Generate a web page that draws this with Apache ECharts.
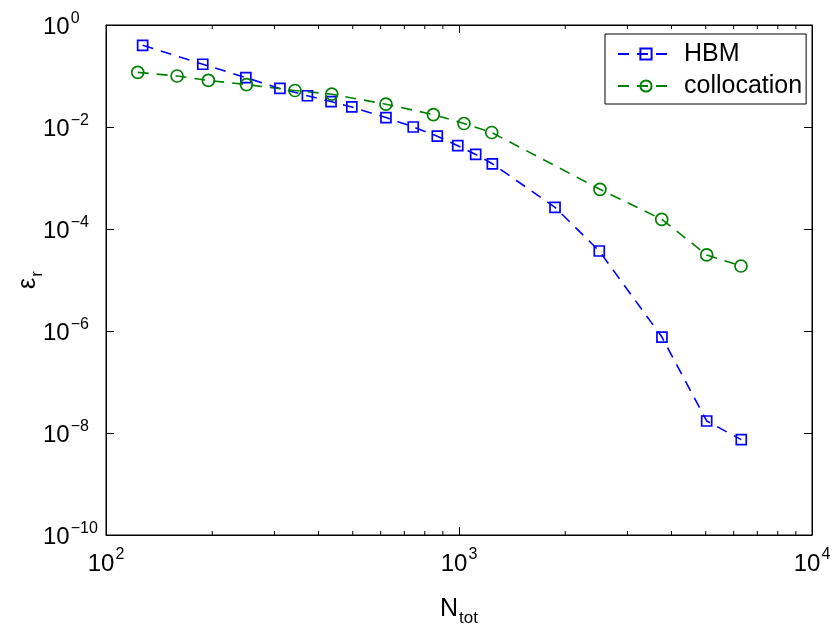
<!DOCTYPE html>
<html><head><meta charset="utf-8">
<script src="https://cdn.jsdelivr.net/npm/echarts@6/dist/echarts.min.js"></script>
<style>html,body{margin:0;padding:0;background:#fff}#c{width:840px;height:637px}</style>
</head><body><div id="c"></div>
<script>
const hbmN   = [127, 188, 249, 311, 372, 434, 497, 621, 742, 868, 992, 1115, 1243, 1871, 2497, 3758, 5031, 6304];
const hbmErr = [0.40, 0.17, 0.093, 0.057, 0.041, 0.0315, 0.0247, 0.0153, 0.0100, 0.0066, 0.0043, 0.0029, 0.0019, 2.66e-4, 3.7e-5, 7.6e-7, 1.72e-8, 7.4e-9];
const colN   = [123, 159, 195, 250, 343, 436, 621, 846, 1033, 1238, 2508, 3752, 5031, 6294];
const colErr = [0.118, 0.100, 0.082, 0.068, 0.052, 0.044, 0.028, 0.0175, 0.0117, 0.0078, 6.0e-4, 1.55e-4, 3.1e-5, 1.88e-5];
const xMin = 100, xMax = 10000, yMin = 1e-10, yMax = 1;
const xMinorTicks = [200,300,400,500,600,700,800,900,2000,3000,4000,5000,6000,7000,8000,9000];

const FONT = '"Liberation Sans", Arial, sans-serif';
function pow10Label(v){
  const e = Math.round(Math.log10(v));
  return '{b|10}{s|' + (e < 0 ? '\u2212' : '') + Math.abs(e) + '}';
}
const richLab = {
  b: {fontSize: 24, fontFamily: FONT, color: '#000', verticalAlign: 'bottom'},
  s: {fontSize: 16, fontFamily: FONT, color: '#000', verticalAlign: 'bottom', padding: [0,0,13,1]}
};
const chart = echarts.init(document.getElementById('c'), null, {renderer: 'canvas'});
const axLine = {show: true, lineStyle: {color: '#000', width: 1}};
const tickIn = {show: true, inside: true, length: 8, lineStyle: {color: '#000', width: 1}};
chart.setOption({
  animation: false,
  backgroundColor: '#fff',
  grid: {left: 106, right: 28, top: 25, bottom: 102, show: true, borderColor: '#000', borderWidth: 1,
         containLabel: false, outerBoundsMode: 'none'},
  legend: {
    orient: 'vertical', left: 605, top: 34,
    padding: [6, 4, 4, 12],
    itemWidth: 56, itemHeight: 14, itemGap: 4,
    borderColor: '#000', borderWidth: 1, borderRadius: 0, backgroundColor: '#fff',
    textStyle: {fontSize: 25, fontFamily: FONT, color: '#000', lineHeight: 28, padding: [0,0,0,5]},
    data: ['HBM', 'collocation']
  },
  xAxis: [{
    type: 'log', logBase: 10, min: xMin, max: xMax, position: 'bottom',
    name: '{n|N}{sub|tot}', nameLocation: 'middle', nameGap: 62, nameMoveOverlap: false,
    nameTextStyle: {rich: {
      n: {fontSize: 25, fontFamily: FONT, color: '#000', verticalAlign: 'top'},
      sub: {fontSize: 17, fontFamily: FONT, color: '#000', verticalAlign: 'top', padding: [13,0,0,1]}
    }},
    axisLine: axLine, axisTick: tickIn, splitLine: {show: false}, minorTick: {show: false},
    axisLabel: {formatter: pow10Label, rich: richLab, margin: 12, showMinLabel: true, showMaxLabel: true}
  }, {
    type: 'log', logBase: 10, min: xMin, max: xMax, position: 'top',
    axisLine: axLine, axisTick: tickIn, axisLabel: {show: false}, splitLine: {show: false}
  }],
  yAxis: [{
    type: 'log', logBase: 10, min: yMin, max: yMax, interval: 2, position: 'left',
    name: '{e|\u03b5}{sub|r}', nameLocation: 'middle', nameGap: 60, nameRotate: 90, nameMoveOverlap: false,
    nameTextStyle: {rich: {
      e: {fontSize: 25, fontFamily: FONT, color: '#000', verticalAlign: 'top'},
      sub: {fontSize: 17, fontFamily: FONT, color: '#000', verticalAlign: 'top', padding: [13,0,0,1]}
    }},
    axisLine: axLine, axisTick: tickIn, splitLine: {show: false},
    axisLabel: {formatter: pow10Label, rich: richLab, margin: 63, align: 'left', showMinLabel: true, showMaxLabel: true}
  }, {
    type: 'log', logBase: 10, min: yMin, max: yMax, interval: 2, position: 'right',
    axisLine: axLine, axisTick: tickIn, axisLabel: {show: false}, splitLine: {show: false}
  }],
  series: [{
    name: 'HBM', type: 'line', xAxisIndex: 0, yAxisIndex: 0,
    data: hbmN.map((n, i) => [n, hbmErr[i]]),
    symbol: 'rect', symbolSize: 10, showAllSymbol: true,
    lineStyle: {color: '#0000ff', width: 1.6, type: [11, 8]},
    itemStyle: {color: 'rgba(255,255,255,0)', borderColor: '#0000ff', borderWidth: 1.7},
    emphasis: {disabled: true}, z: 3
  }, {
    name: 'collocation', type: 'line', xAxisIndex: 0, yAxisIndex: 0,
    data: colN.map((n, i) => [n, colErr[i]]),
    symbol: 'circle', symbolSize: 12, showAllSymbol: true,
    lineStyle: {color: '#008000', width: 1.6, type: [11, 8]},
    itemStyle: {color: 'rgba(255,255,255,0)', borderColor: '#008000', borderWidth: 1.7},
    emphasis: {disabled: true}, z: 3
  }, {
    type: 'custom', xAxisIndex: 0, yAxisIndex: 0, silent: true,
    data: xMinorTicks.map(v => [v]),
    renderItem: function (params, api) {
      const v = api.value(0);
      const pb = api.coord([v, yMin]);
      const pt = api.coord([v, yMax]);
      return {type: 'group', children: [
        {type: 'line', shape: {x1: pb[0], y1: pb[1], x2: pb[0], y2: pb[1] - 4}, style: {stroke: '#000', lineWidth: 1}},
        {type: 'line', shape: {x1: pt[0], y1: pt[1], x2: pt[0], y2: pt[1] + 4}, style: {stroke: '#000', lineWidth: 1}}
      ]};
    }
  }]
});
</script></body></html>
